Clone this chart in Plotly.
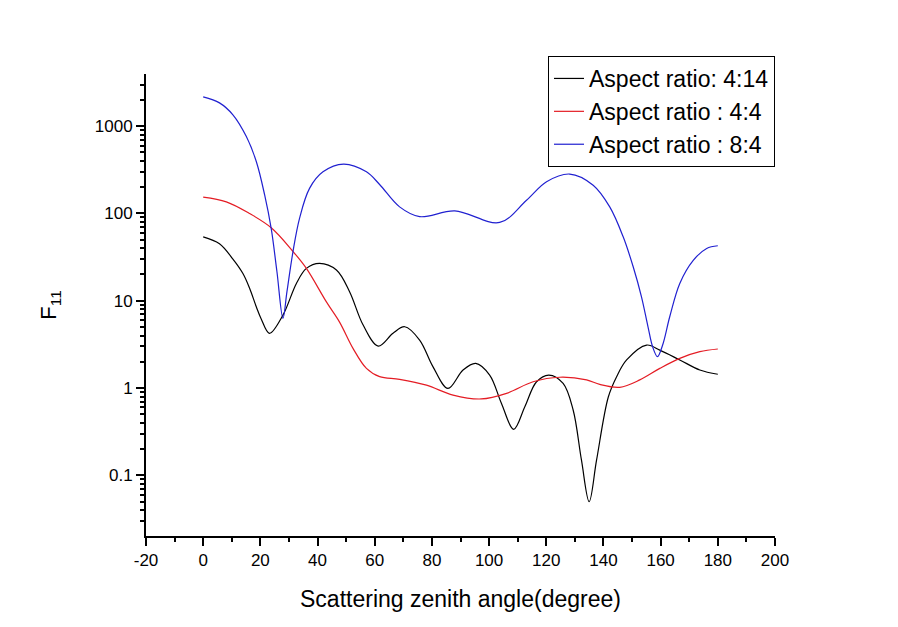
import plotly.graph_objects as go

# Black: Aspect ratio 4:14
angle_414 = [0, 5.7, 10.4, 13.9, 16.2, 18.6, 20.3, 23.2, 27.9, 32.6, 36.1, 40.7, 46.6, 51.2, 55.9,
             61.2, 66.4, 70.5, 75.7, 80.4, 85.6, 90.9, 95.3, 100.2, 104.3, 108.6, 112.5, 116.6,
             120.9, 125.9, 129.4, 132.3, 135, 137.6, 141.7, 144.6, 148.1, 155.1, 159.7, 166.7,
             173.7, 180]
f11_414 = [54, 45, 30, 20.5, 14, 8.5, 6.2, 4.24, 6.85, 15.8, 23.5, 26.8, 22.5, 12.7, 5.3,
           3.03, 4.24, 5.04, 3.55, 1.75, 0.99, 1.61, 1.92, 1.41, 0.67, 0.336, 0.61, 1.18,
           1.41, 1.13, 0.56, 0.15, 0.050, 0.15, 0.79, 1.35, 2.1, 3.11, 2.72, 2.1,
           1.61, 1.44]

# Red: Aspect ratio 4:4
angle_44 = [0, 8.1, 16.2, 23.8, 31.2, 36.1, 43.1, 47.7, 52.4, 57.1, 61.7, 68.7, 78.1, 87.4,
            97.3, 106.1, 115.4, 124.7, 134.1, 138.7, 145.7, 152.7, 159.7, 166.7, 173.7, 180]
f11_44 = [154, 136, 100, 68.6, 37.4, 23.5, 9.7, 5.7, 2.85, 1.68, 1.35, 1.26, 1.08, 0.83,
          0.75, 0.87, 1.18, 1.33, 1.24, 1.10, 1.02, 1.24, 1.68, 2.19, 2.61, 2.8]

# Blue: Aspect ratio 8:4
angle_84 = [0, 5.7, 10.4, 15.1, 18.6, 21.5, 23.8, 25.8, 27.9, 29.3, 31.4, 33.7, 37.2, 41.9,
            49.1, 57.1, 61.7, 68.7, 75.7, 88, 103.7, 113.1, 120.1, 128.2, 136.4, 142.2,
            146.9, 150.4, 153.3, 155.6, 157.2, 158.9, 160.7, 163.2, 166.7, 171.4, 176.1, 180]
f11_84 = [2170, 1850, 1350, 760, 391, 163, 67, 21.5, 6.3, 12.7, 36.4, 88, 194, 300,
          368, 300, 215, 119, 92, 107, 79, 142, 231, 283, 211, 119,
          54, 24.5, 11.1, 5.0, 2.97, 2.29, 3.11, 6.6, 15.8, 29, 39.8, 42.7]

series_names = ["Aspect ratio: 4:14", "Aspect ratio : 4:4", "Aspect ratio : 8:4"]
series_colors = ["#000000", "#e41c24", "#2020d0"]

x_tick_vals = [-20, 0, 20, 40, 60, 80, 100, 120, 140, 160, 180, 200]
x_tick_text = ["-20", "0", "20", "40", "60", "80", "100", "120", "140", "160", "180", "200"]
y_tick_vals = [0.1, 1, 10, 100, 1000]
y_tick_text = ["0.1", "1", "10", "100", "1000"]
y_minor_vals = [m * 10 ** e for e in range(-2, 4) for m in range(2, 10)]

FONT = "Arial, Liberation Sans, sans-serif"

fig = go.Figure()
for xs, ys, name, col in zip([angle_414, angle_44, angle_84], [f11_414, f11_44, f11_84],
                             series_names, series_colors):
    fig.add_trace(go.Scatter(x=xs, y=ys, mode="lines", name=name,
                             line=dict(color=col, width=1.2, shape="spline", smoothing=1.0)))

fig.update_layout(
    width=898, height=627,
    margin=dict(l=146, r=123, t=74, b=91),
    paper_bgcolor="white", plot_bgcolor="white",
    font=dict(family=FONT, color="black"),
    showlegend=True,
    legend=dict(x=1, xanchor="right", y=1.039, yanchor="top",
                bordercolor="black", borderwidth=1, bgcolor="white",
                font=dict(size=23, family=FONT), tracegroupgap=0),
    xaxis=dict(range=[-20, 200], tickmode="array", tickvals=x_tick_vals, ticktext=x_tick_text,
               showgrid=False, zeroline=False,
               showline=True, linecolor="black", linewidth=2, mirror=False,
               ticks="outside", ticklen=8, tickwidth=2, tickcolor="black",
               tickfont=dict(size=17, family=FONT),
               minor=dict(dtick=10, tick0=0, ticks="outside", ticklen=4, tickwidth=2,
                          tickcolor="black", showgrid=False),
               title=dict(text="Scattering zenith angle(degree)", font=dict(size=23, family=FONT),
                          standoff=21)),
    yaxis=dict(type="log", range=[-1.695, 3.598], tickmode="array",
               tickvals=y_tick_vals, ticktext=y_tick_text,
               showgrid=False, zeroline=False,
               showline=True, linecolor="black", linewidth=2, mirror=False,
               ticks="outside", ticklen=8, tickwidth=2, tickcolor="black",
               tickfont=dict(size=17, family=FONT),
               minor=dict(tickmode="array", tickvals=y_minor_vals, ticks="outside", ticklen=4,
                          tickwidth=2, tickcolor="black", showgrid=False),
               title=dict(text="F<sub>11</sub>", font=dict(size=22, family=FONT), standoff=32)),
)

fig.write_html("out.html")
